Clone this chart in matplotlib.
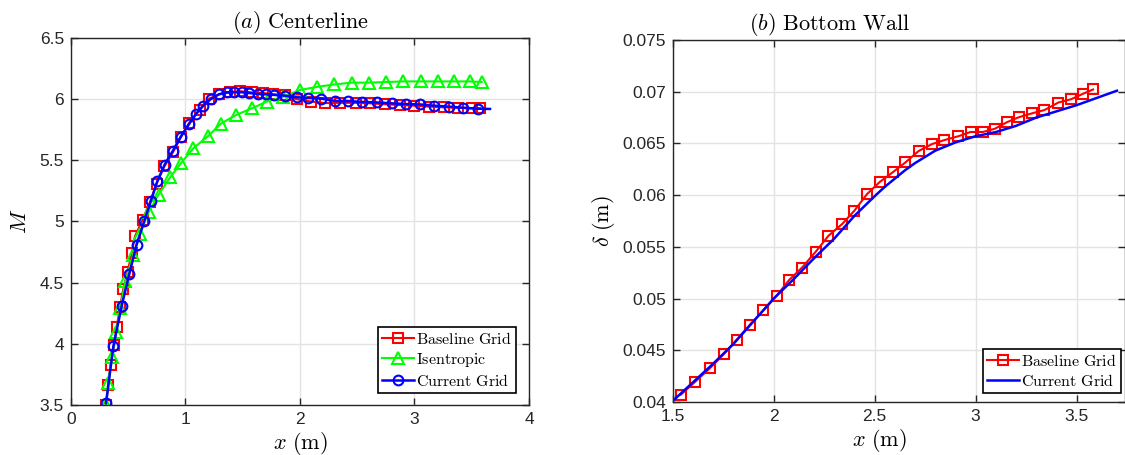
import matplotlib
matplotlib.use("Agg")
import matplotlib.pyplot as plt

# (a) Centerline - Mach number
base_x = [0.305, 0.326, 0.346, 0.378, 0.399, 0.428, 0.457, 0.495, 0.53, 0.559, 0.626, 0.69,
          0.748, 0.815, 0.893, 0.961, 1.031, 1.127, 1.208, 1.295, 1.389, 1.476, 1.578, 1.68,
          1.767, 1.87, 1.971, 2.10, 2.218, 2.349, 2.489, 2.611, 2.742, 2.873, 2.996, 3.129,
          3.258, 3.383, 3.50, 3.572]
base_M = [3.50, 3.66, 3.83, 3.99, 4.14, 4.30, 4.45, 4.59, 4.74, 4.88, 5.015, 5.16,
          5.31, 5.45, 5.57, 5.69, 5.805, 5.915, 6.005, 6.04, 6.055, 6.065, 6.055, 6.05,
          6.04, 6.03, 6.0, 5.98, 5.968, 5.97, 5.97, 5.966, 5.958, 5.952, 5.947, 5.939,
          5.933, 5.93, 5.925, 5.925]

isen_x = [0.305, 0.325, 0.355, 0.395, 0.43, 0.475, 0.545, 0.60, 0.68, 0.765, 0.865, 0.963,
          1.07, 1.20, 1.31, 1.44, 1.58, 1.71, 1.855, 2.0, 2.146, 2.297, 2.451, 2.603, 2.751,
          2.902, 3.054, 3.203, 3.348, 3.485, 3.587]
isen_M = [3.50, 3.68, 3.89, 4.10, 4.29, 4.51, 4.73, 4.90, 5.08, 5.22, 5.36, 5.48,
          5.60, 5.70, 5.80, 5.87, 5.925, 5.98, 6.02, 6.075, 6.10, 6.12, 6.135, 6.135, 6.14,
          6.145, 6.145, 6.145, 6.145, 6.145, 6.14]

curr_x = [0.306, 0.370, 0.443, 0.509, 0.573, 0.641, 0.699, 0.754, 0.818, 0.891, 0.958, 1.031,
          1.092, 1.153, 1.220, 1.293, 1.360, 1.426, 1.491, 1.557, 1.63, 1.70, 1.773, 1.869,
          1.976, 2.073, 2.181, 2.306, 2.422, 2.544, 2.675, 2.801, 2.926, 3.048, 3.17, 3.301,
          3.426, 3.557, 3.66]
curr_M = [3.515, 3.98, 4.31, 4.57, 4.81, 5.005, 5.17, 5.33, 5.465, 5.58, 5.693, 5.796,
          5.88, 5.945, 6.0, 6.04, 6.056, 6.058, 6.057, 6.05, 6.043, 6.04, 6.035, 6.028,
          6.015, 6.01, 6.005, 5.985, 5.984, 5.977, 5.973, 5.966, 5.96, 5.957, 5.947, 5.939,
          5.93, 5.922, 5.92]

# (b) Bottom wall - boundary layer thickness
bl_base_x = [1.540, 1.611, 1.683, 1.752, 1.816, 1.882, 1.949, 2.015, 2.076, 2.140, 2.209,
             2.271, 2.339, 2.400, 2.462, 2.525, 2.59, 2.652, 2.718, 2.784, 2.844, 2.915,
             2.975, 3.036, 3.095, 3.156, 3.213, 3.279, 3.341, 3.41, 3.472, 3.533, 3.582]
bl_base_d = [0.04071, 0.04195, 0.04325, 0.04461, 0.04601, 0.04747, 0.04886, 0.05029,
             0.05179, 0.05299, 0.05455, 0.05607, 0.05721, 0.05851, 0.0601, 0.06127,
             0.06222, 0.06316, 0.06427, 0.06494, 0.06532, 0.0657, 0.06611, 0.06611,
             0.06642, 0.06706, 0.06753, 0.06791, 0.06823, 0.06896, 0.06927, 0.06981, 0.07022]

bl_curr_x = [1.5, 1.6, 1.7, 1.8, 1.9, 2.0, 2.1, 2.2, 2.3, 2.4, 2.5, 2.55, 2.6, 2.65, 2.7,
             2.8, 2.9, 3.0, 3.1, 3.2, 3.3, 3.4, 3.5, 3.6, 3.7]
bl_curr_d = [0.0401, 0.0419, 0.0437, 0.0456, 0.0478, 0.0500, 0.0519, 0.0539, 0.0558, 0.0580,
             0.0599, 0.0608, 0.0616, 0.0624, 0.0631, 0.0643, 0.0651, 0.0657, 0.0661, 0.0667,
             0.0675, 0.0681, 0.0687, 0.0694, 0.0701]

plt.rcParams['mathtext.fontset'] = 'cm'
plt.rcParams['font.family'] = ['Liberation Sans', 'DejaVu Sans']

dark = '#262626'
red, green, blue = '#ff0000', '#00ff00', '#0000ff'

fig = plt.figure(figsize=(11.25, 4.55), dpi=100)
ax1 = fig.add_axes([0.0631, 0.1099, 0.4071, 0.8066])
ax2 = fig.add_axes([0.598, 0.1165, 0.402, 0.7955])

mk = dict(markerfacecolor='none', markeredgewidth=1.5)
ax1.plot(base_x, base_M, '-s', color=red, lw=1.5, ms=7.5, label=r'$\mathrm{Baseline\ Grid}$', **mk)
ax1.plot(isen_x, isen_M, '-^', color=green, lw=1.5, ms=8.5, label=r'$\mathrm{Isentropic}$', **mk)
ax1.plot(curr_x, curr_M, '-o', color=blue, lw=1.8, ms=7, markevery=list(range(len(curr_x) - 1)),
         label=r'$\mathrm{Current\ Grid}$', **mk)
ax1.set_xlim(0, 4)
ax1.set_ylim(3.5, 6.5)
ax1.set_xticks([0, 1, 2, 3, 4])
ax1.set_yticks([3.5, 4, 4.5, 5, 5.5, 6, 6.5])
ax1.set_yticklabels(['3.5', '4', '4.5', '5', '5.5', '6', '6.5'])
ax1.set_title(r'$(a)\ \mathrm{Centerline}$', fontsize=16, pad=7)
ax1.set_xlabel(r'$x\ \mathrm{(m)}$', fontsize=16, labelpad=2)
ax1.set_ylabel(r'$M$', fontsize=16, labelpad=6)

ax2.plot(bl_base_x, bl_base_d, '-s', color=red, lw=1.5, ms=7.5, label=r'$\mathrm{Baseline\ Grid}$', **mk)
ax2.plot(bl_curr_x, bl_curr_d, '-', color=blue, lw=1.8, label=r'$\mathrm{Current\ Grid}$')
ax2.set_xlim(1.5, 3.74)
ax2.set_ylim(0.04, 0.075)
ax2.set_xticks([1.5, 2, 2.5, 3, 3.5])
ax2.set_xticklabels(['1.5', '2', '2.5', '3', '3.5'])
ax2.set_yticks([0.04, 0.045, 0.05, 0.055, 0.06, 0.065, 0.07, 0.075])
ax2.set_yticklabels(['0.04', '0.045', '0.05', '0.055', '0.06', '0.065', '0.07', '0.075'])
ax2.set_title(r'$(b)\ \mathrm{Bottom\ Wall}$', fontsize=16, pad=7, x=0.348)
ax2.set_xlabel(r'$x\ \mathrm{(m)}$', fontsize=16, labelpad=2, x=0.458)
ax2.set_ylabel(r'$\delta\ \mathrm{(m)}$', fontsize=16, labelpad=4)

for ax, anchor in ((ax1, (0.9716, 0.0327)), (ax2, (0.991, 0.0249))):
    ax.grid(True, color='#e3e3e3', lw=1.0)
    ax.set_axisbelow(True)
    ax.tick_params(direction='in', top=True, right=True, length=5, width=1,
                   colors=dark, labelsize=12.5, pad=5)
    for s in ax.spines.values():
        s.set_color(dark)
        s.set_linewidth(1.0)
    leg = ax.legend(loc='lower right', bbox_to_anchor=anchor, fontsize=11.5, fancybox=False,
                    framealpha=1, edgecolor='black', handlelength=2.0, handletextpad=0.15,
                    borderpad=0.25, labelspacing=0.25, borderaxespad=0.0)
    leg.get_frame().set_linewidth(1.2)

fig.savefig('out.png', dpi=100)
